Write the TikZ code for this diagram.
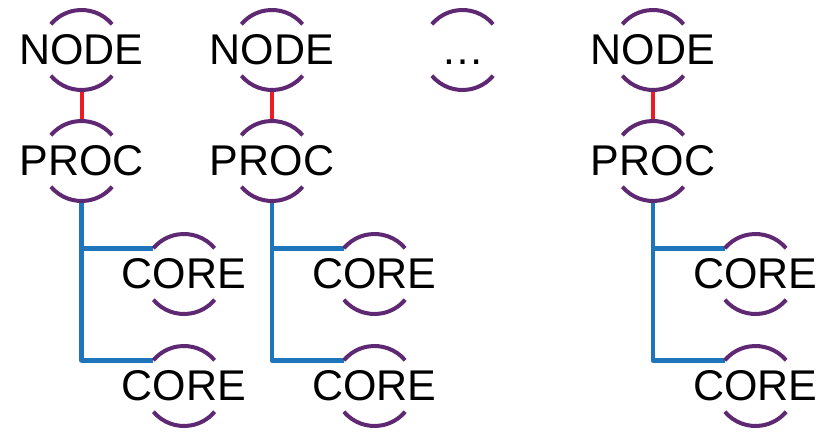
\documentclass[tikz,border=0pt]{standalone}
\usepackage{fontspec}
\setmainfont{Liberation Sans}
\definecolor{ringpurple}{RGB}{94,40,114}
\definecolor{linkred}{RGB}{237,28,36}
\definecolor{linkblue}{RGB}{30,117,188}
\tikzset{
  % label is set in a zero-width box so the ring size stays fixed
  unit/.style={circle, minimum size=80pt, inner sep=0pt, outer sep=0pt,
    font=\fontsize{43}{43}\selectfont, text height=29pt, text depth=0pt,
    execute at begin node={\hbox to 0pt\bgroup\hss},
    execute at end node={\hss\egroup}},
  ringarc/.style={draw=ringpurple, line width=4pt},
  uplink/.style={draw=linkred, line width=4pt},
  downlink/.style={draw=linkblue, line width=4.5pt, line join=round}
}
\begin{document}
\begin{tikzpicture}[x=1pt, y=-1pt]
\useasboundingbox (0,0) rectangle (827,431);

% columns of node / processor / cores
\foreach \c/\x in {1/81.5, 2/272, 4/653} {
  \node[unit] (n\c) at (\x,50) {NODE};
  \node[unit] (p\c) at (\x,161) {PROC};
  \node[unit] (ca\c) at (\x+102.5,274) {CORE};
  \node[unit] (cb\c) at (\x+102.5,386) {CORE};
  \draw[uplink] (n\c.south) -- (p\c.north);
  \draw[downlink] (p\c.south) |- (ca\c.140);
  \draw[downlink] (p\c.south) |- (cb\c.140);
}
\node[unit] (more) at (462.5,50) {\char"2026};

% open rings around every unit
\foreach \u in {n1,p1,ca1,cb1,n2,p2,ca2,cb2,n4,p4,ca4,cb4,more} {
  \draw[ringarc] (\u.40) arc[start angle=40, end angle=140, radius=40pt];
  \draw[ringarc] (\u.220) arc[start angle=220, end angle=320, radius=40pt];
}
\end{tikzpicture}
\end{document}
